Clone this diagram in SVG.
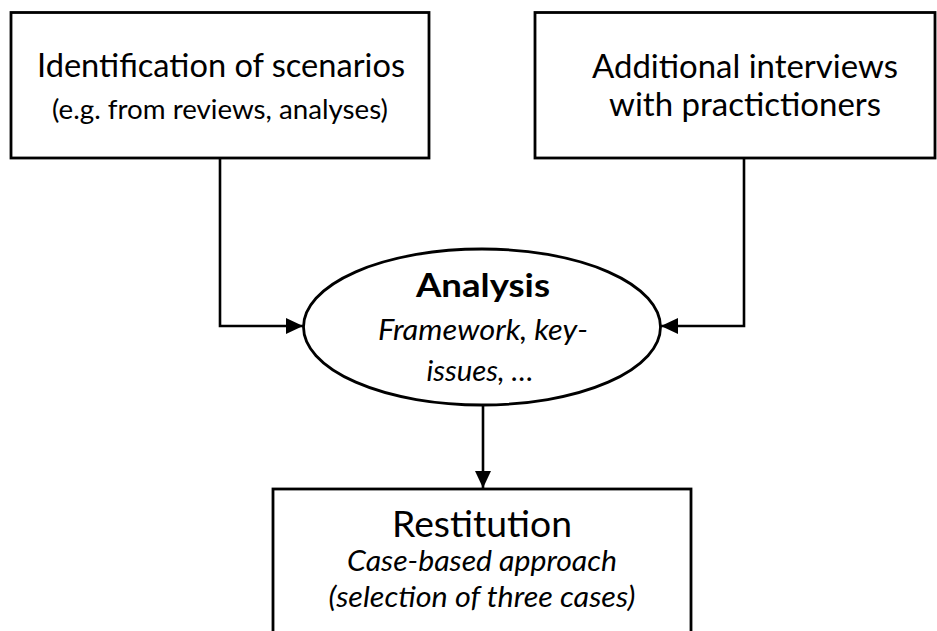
<svg xmlns="http://www.w3.org/2000/svg" width="937" height="631" viewBox="0 0 937 631">
<style>
  .box { fill: #ffffff; stroke: #000000; stroke-width: 2.8; }
  .conn { fill: none; stroke: #000000; stroke-width: 2.6; }
  text { font-family: Lato, "Open Sans", sans-serif; fill: #000000; text-anchor: middle; }
  .t1 { font-size: 32px; }
  .t2 { font-size: 26.5px; }
  .bold { font-size: 33px; font-weight: bold; }
  .it { font-size: 28px; font-style: italic; }
  .big { font-size: 36px; }
  .it2 { font-size: 28px; font-style: italic; }
</style>
<defs>
  <marker id="arrow" markerUnits="userSpaceOnUse" markerWidth="17" markerHeight="16" refX="17" refY="8" orient="auto">
    <path d="M0,0 L17,8 L0,16 z" fill="#000000"/>
  </marker>
</defs>
<rect width="937" height="631" fill="#ffffff"/>
<g id="connectors">
  <path class="conn" d="M220 158 V326 H303" marker-end="url(#arrow)"/>
  <path class="conn" d="M744 158 V326 H661" marker-end="url(#arrow)"/>
  <path class="conn" d="M483 405 V488" marker-end="url(#arrow)"/>
</g>
<g id="identification">
  <rect class="box" x="11" y="12.5" width="418" height="145.5"/>
  <text class="t1" x="221" y="77" textLength="368" lengthAdjust="spacingAndGlyphs">Identification of scenarios</text>
  <text class="t2" x="220" y="119" textLength="336" lengthAdjust="spacingAndGlyphs">(e.g. from reviews, analyses)</text>
</g>
<g id="interviews">
  <rect class="box" x="535" y="12.5" width="400" height="145.5"/>
  <text class="t1" x="745" y="78" textLength="306" lengthAdjust="spacingAndGlyphs">Additional interviews</text>
  <text class="t1" x="745" y="116" textLength="272" lengthAdjust="spacingAndGlyphs">with practictioners</text>
</g>
<g id="analysis">
  <ellipse class="box" cx="482" cy="327" rx="178.5" ry="78"/>
  <text class="bold" x="483" y="297" textLength="134" lengthAdjust="spacingAndGlyphs">Analysis</text>
  <text class="it" x="483" y="340" textLength="210" lengthAdjust="spacingAndGlyphs">Framework, key-</text>
  <text class="it" x="480" y="381" textLength="107" lengthAdjust="spacingAndGlyphs">issues, …</text>
</g>
<g id="restitution">
  <rect class="box" x="273" y="489" width="418" height="200"/>
  <text class="big" x="482" y="537" textLength="180" lengthAdjust="spacingAndGlyphs">Restitution</text>
  <text class="it2" x="482" y="571" textLength="270" lengthAdjust="spacingAndGlyphs">Case-based approach</text>
  <text class="it2" x="482" y="607" textLength="307" lengthAdjust="spacingAndGlyphs">(selection of three cases)</text>
</g>
</svg>
